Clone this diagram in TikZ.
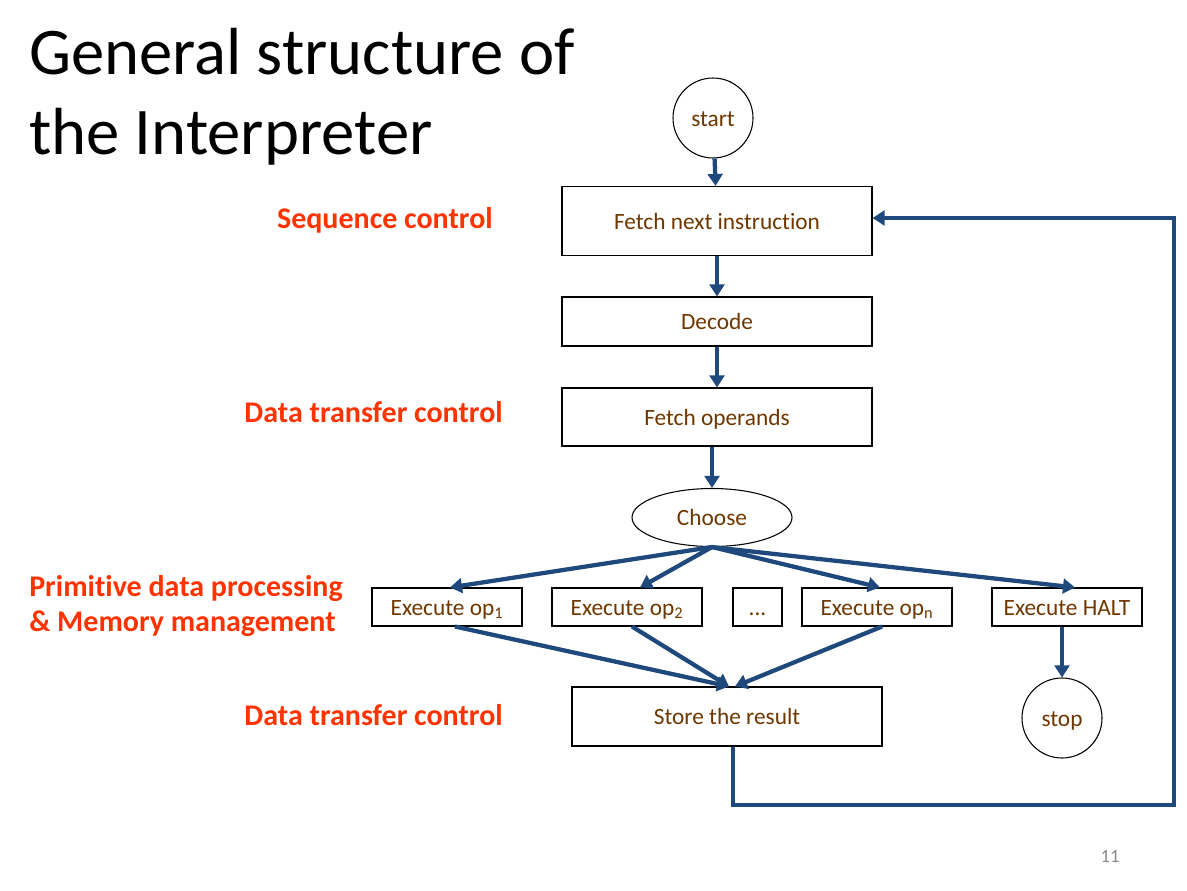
\documentclass[tikz,border=0pt]{standalone}
\usepackage{fontspec}
\setmainfont{Carlito}[Ligatures={NoCommon}]
\usetikzlibrary{arrows.meta,calc,shapes.geometric}
\definecolor{flowblue}{RGB}{31,73,125}
\definecolor{txtbrown}{RGB}{110,55,0}
\definecolor{lblred}{RGB}{255,51,0}
\definecolor{pggrey}{RGB}{137,137,137}
\tikzset{
  box/.style={draw=black, fill=white, line width=0.8pt, text=txtbrown,
    font=\fontsize{17.5}{20}\selectfont, inner sep=0pt, text height=16pt, text depth=3.5pt},
  wide/.style={box, minimum width=232.5pt},
  exec/.style={box, minimum width=112.5pt, minimum height=28.5pt},
  circ/.style={box, circle, minimum size=60pt},
  flow/.style={draw=flowblue, line width=3.2pt, -{Triangle[length=9pt,width=11pt]}},
  lbl/.style={text=lblred, font=\fontsize{22.5}{26.25}\selectfont\bfseries, anchor=east, inner sep=0pt},
  ttl/.style={anchor=base west, inner sep=0pt, font=\fontsize{50}{60}\selectfont},
}
\begin{document}
\begin{tikzpicture}[x=0.75pt,y=-0.75pt]
\path[use as bounding box] (0,0) rectangle (1187,891);
% title
\node[ttl] (title1) at (29,75) {General structure of};
\node[ttl] (title2) at (29,155) {the Interpreter};
% nodes
\node[circ] (start) at (713,118) {start};
\node[wide, minimum height=51.75pt] (fetch) at (717,221) {Fetch next instruction};
\node[wide, minimum height=36.75pt] (decode) at (717,321.5) {Decode};
\node[wide, minimum height=43.5pt] (operands) at (717,417) {Fetch operands};
\node[box, ellipse, minimum width=120pt, minimum height=43.5pt] (choose) at (712,517.5) {Choose};
\node[exec] (op1) at (447,607) {Execute op\textsubscript{1}};
\node[exec] (op2) at (627,607) {Execute op\textsubscript{2}};
\node[box, minimum width=36.75pt, minimum height=28.5pt] (dots) at (757.5,607) {...};
\node[exec] (opn) at (877,607) {Execute op\textsubscript{n}};
\node[exec] (halt) at (1067,607) {Execute HALT};
\node[wide, minimum height=44.25pt] (store) at (727,716.5) {Store the result};
\node[circ] (stop) at (1062,718) {stop};
% labels
\node[lbl] (l1) at (493,220) {Sequence control};
\node[lbl] (l2) at (503,412) {Data transfer control};
\node[lbl, anchor=west, align=left] (l3) at (29,606) {Primitive data processing\\\& Memory management};
\node[lbl] (l4) at (503,715) {Data transfer control};
\node[text=pggrey, font=\fontsize{14}{16}\selectfont, inner sep=0pt] (page) at (1110,856) {11};
% connectors
\draw[flow] (start) -- (fetch);
\draw[flow] (fetch.south -| decode.north) -- (decode);
\draw[flow] (decode) -- (operands);
\draw[flow] (operands.south -| choose.north) -- (choose);
\coordinate (cs) at (choose.south);
\draw[flow] (cs) -- ($(op1.north)+(3,0)$);
\draw[flow] (cs) -- ($(op2.north)+(13,0)$);
\draw[flow] (cs) -- ($(opn.north)+(3,0)$);
\draw[flow] (cs) -- ($(halt.north)+(8,0)$);
\coordinate (sin) at ($(store.north)+(2,0)$);
\draw[flow] ($(op1.south)+(8,0)$) -- (sin);
\draw[flow] ($(op2.south)+(5,0)$) -- (sin);
\draw[flow] ($(opn.south)+(5,0)$) -- ($(store.north)+(8,0)$);
\draw[flow] (halt.south -| stop.north) -- (stop);
\coordinate (loopA) at (733,805);
\coordinate (loopB) at (1174,805);
\draw[flow, line join=miter] ($(store.south)+(6,0)$) -- (loopA) -- (loopB) |- ($(fetch.east)+(0,-3)$);
\end{tikzpicture}
\end{document}
